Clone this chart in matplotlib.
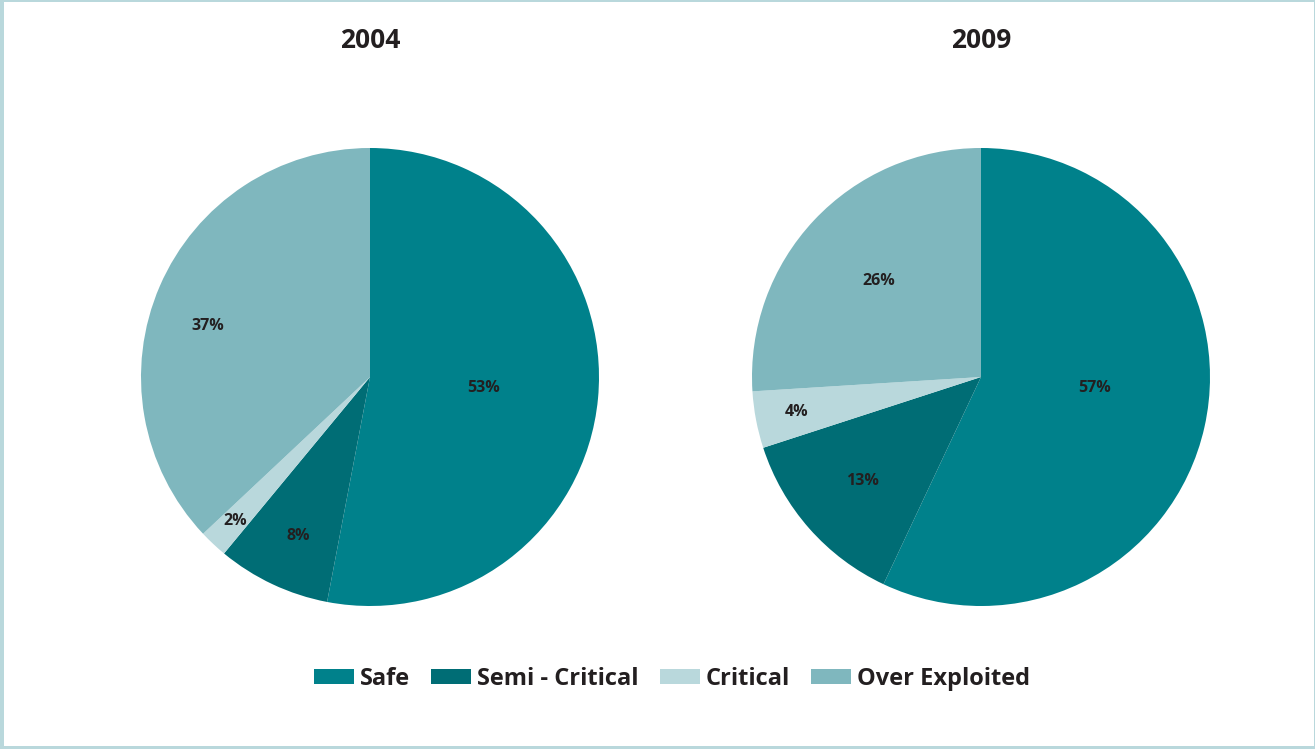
import numpy as np
import matplotlib.pyplot as plt
import matplotlib.patches as patches

W, H, DPI = 1315, 749, 100

categories = ['Safe', 'Semi - Critical', 'Critical', 'Over Exploited']
years      = ['2004', '2009']
values_2004 = [53, 8, 2, 37]
values_2009 = [57, 13, 4, 26]

COLORS     = ['#00818b', '#006d75', '#b9d8dc', '#7fb7be']
BORDER     = '#b9d8dc'
TEXT       = '#231f20'
FONT       = ['Open Sans', 'DejaVu Sans']

# label placement: radius (fraction of pie radius) and angle nudge (deg)
LABEL_R = {
    '2004': [0.50, 0.76, 0.86, 0.74],
    '2009': [0.50, 0.69, 0.82, 0.61],
}
LABEL_DA = {
    '2004': [0, 1, 0, 6],
    '2009': [7, 0, 0, 0],
}

plt.rcParams['font.family'] = FONT

fig = plt.figure(figsize=(W / DPI, H / DPI), dpi=DPI)
fig.patch.set_facecolor(BORDER)

# white panel inside the thin light-blue frame
fig.add_artist(patches.Rectangle(
    (4 / W, 3 / H), (W - 1) / W - 4 / W, (H - 2) / H - 3 / H,
    transform=fig.transFigure, facecolor='white', edgecolor='none', zorder=0))

R_PX = 229
centers = [(370, 377), (981, 377)]

for (cx, cy), year, vals in zip(centers, years, [values_2004, values_2009]):
    ax = fig.add_axes([(cx - R_PX) / W, (H - cy - R_PX) / H,
                       2 * R_PX / W, 2 * R_PX / H])
    wedges, _ = ax.pie(vals, colors=COLORS, startangle=90, counterclock=False,
                       radius=1.0, wedgeprops=dict(linewidth=0))
    for w, v, r, da in zip(wedges, vals, LABEL_R[year], LABEL_DA[year]):
        mid = np.deg2rad((w.theta1 + w.theta2) / 2 + da)
        ax.text(r * np.cos(mid), r * np.sin(mid), f'{v}%',
                ha='center', va='center', fontsize=11.5,
                fontweight='bold', color=TEXT)
    ax.set_xlim(-1, 1)
    ax.set_ylim(-1, 1)
    ax.set_aspect('equal')
    ax.axis('off')
    fig.text(cx / W, 1 - 41 / H, year, ha='center', va='center',
             fontsize=19, fontweight='bold', color=TEXT)

handles = [patches.Patch(facecolor=c, edgecolor='none') for c in COLORS]
leg = fig.legend(handles, categories, loc='center',
                 bbox_to_anchor=(672 / W, 1 - 679 / H),
                 ncol=4, frameon=False, handlelength=1.7, handleheight=0.6,
                 handletextpad=0.25, columnspacing=0.9,
                 prop=dict(size=17, weight='bold'))
for t in leg.get_texts():
    t.set_color(TEXT)

plt.savefig('out.png', dpi=DPI, facecolor=fig.get_facecolor())
